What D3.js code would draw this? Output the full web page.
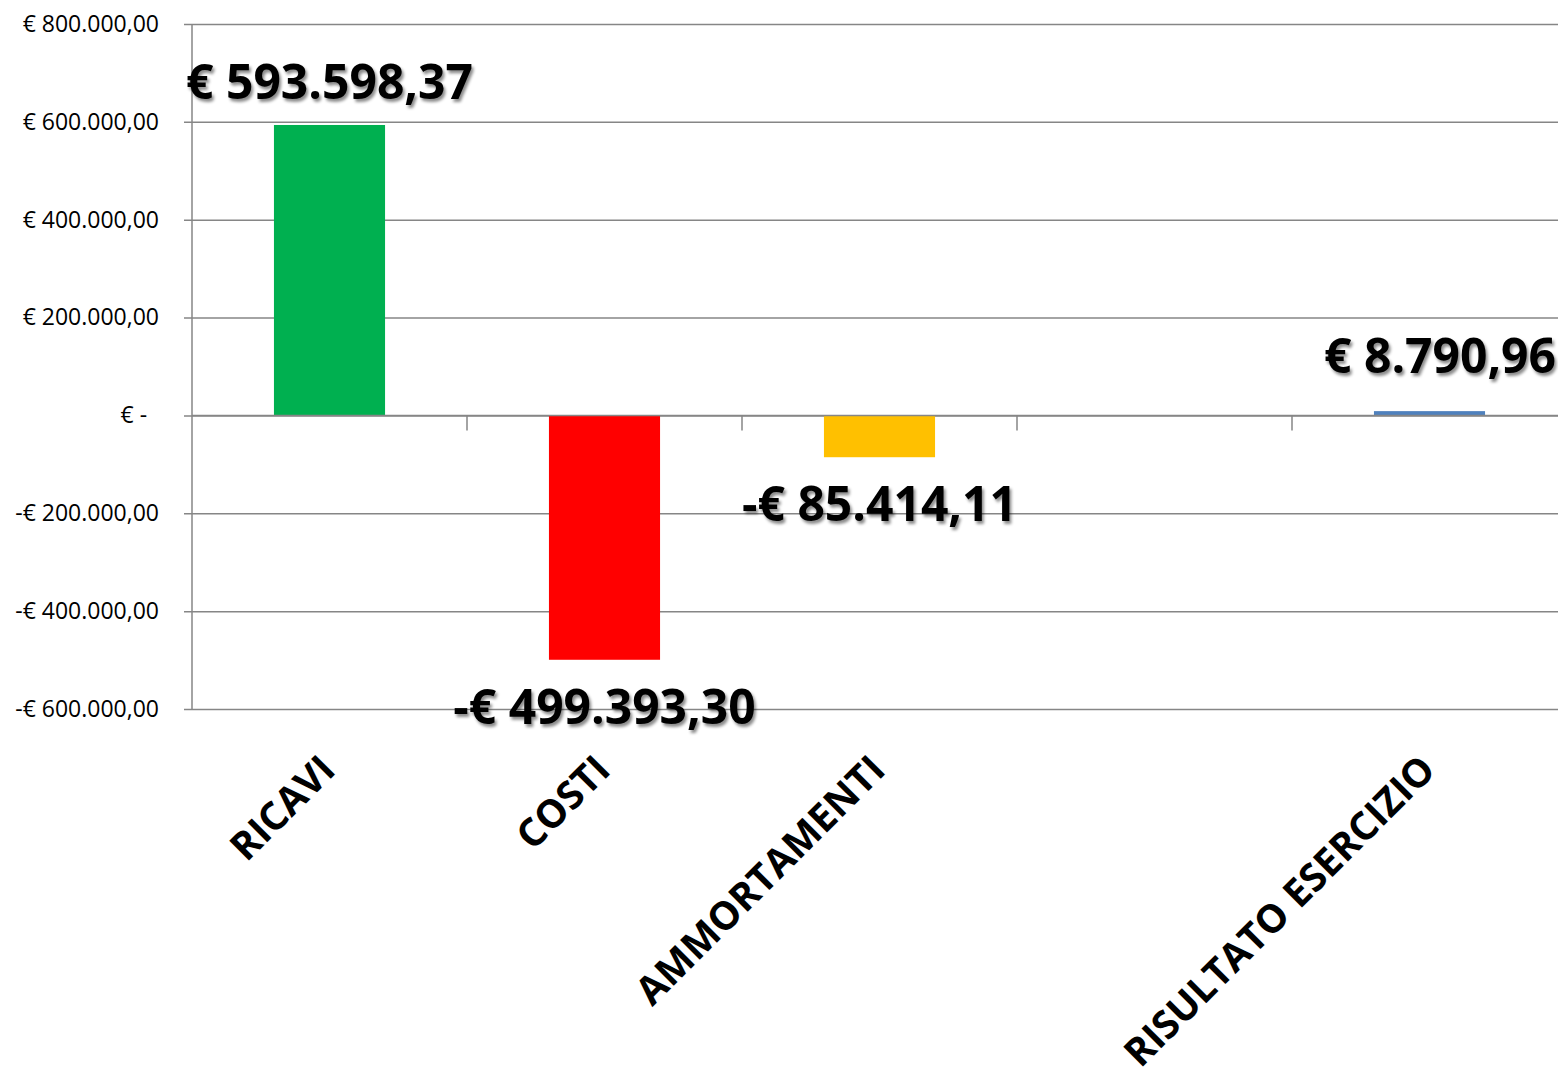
<!DOCTYPE html>
<html>
<head>
<meta charset="utf-8">
<script src="https://cdn.jsdelivr.net/npm/d3@7"></script>
<style>
	body { margin: 0; background: #fff; }
	svg { display: block; }
	text { font-family: 'Open Sans', sans-serif; }
</style>
</head>
<body>
<div id="chart"></div>
<script>
// chart values
var categories = ['RICAVI', 'COSTI', 'AMMORTAMENTI', '', 'RISULTATO ESERCIZIO'];
var values = [593598.37, -499393.30, -85414.11, null, 8790.96];
var bar_colors = ['#00B050', '#FF0000', '#FFC000', '#4F81BD', '#4F81BD'];
var tick_values = [-600000, -400000, -200000, 0, 200000, 400000, 600000, 800000];
var tick_labels = ['-€ 600.000,00', '-€ 400.000,00', '-€ 200.000,00', '€ -  ',
	'€ 200.000,00', '€ 400.000,00', '€ 600.000,00', '€ 800.000,00'];

var width = 1558,
	height = 1068,
	plot_left = 192,
	plot_right = 1567,
	plot_top = 24,
	plot_bottom = 709;

var it = d3.formatLocale({
	decimal: ',',
	thousands: '.',
	grouping: [3],
	currency: ['€ ', ''],
	minus: '-'
});
var money = it.format('$,.2f');

var svg = d3.select('#chart')
	.append('svg')
	.attr('width', width)
	.attr('height', height);

var shadow = svg.append('defs')
	.append('filter')
	.attr('id', 'shadow')
	.attr('x', '-10%').attr('y', '-30%')
	.attr('width', '120%').attr('height', '160%');
shadow.append('feDropShadow')
	.attr('dx', 2).attr('dy', 3)
	.attr('stdDeviation', 1.8)
	.attr('flood-color', '#000')
	.attr('flood-opacity', 0.45);

var x = d3.scaleBand()
	.domain(d3.range(categories.length))
	.range([plot_left, plot_right])
	.paddingInner(0.596)
	.paddingOuter(0.298);

var y = d3.scaleLinear()
	.domain([-600000, 800000])
	.range([plot_bottom, plot_top]);

// horizontal gridlines + y ticks
var y_axis = d3.axisLeft(y)
	.tickValues(tick_values)
	.tickSize(-(width - plot_left))
	.tickPadding(33)
	.tickFormat(function(d, i) { return tick_labels[i]; });

var gy = svg.append('g')
	.attr('transform', 'translate(' + plot_left + ',0)')
	.call(y_axis);
gy.select('.domain').remove();
gy.selectAll('.tick line')
	.attr('x1', -8)
	.attr('stroke', '#868686')
	.attr('stroke-width', 1.5);
gy.selectAll('.tick text')
	.attr('fill', '#000')
	.style('font-size', '23px')
	.style('white-space', 'pre');

// vertical axis line
svg.append('line')
	.attr('x1', plot_left).attr('x2', plot_left)
	.attr('y1', y(800000)).attr('y2', y(-600000))
	.attr('stroke', '#868686')
	.attr('stroke-width', 1.5);

// bars
var bars = values.map(function(v, i) { return {i: i, v: v}; })
	.filter(function(d) { return d.v !== null; });

svg.selectAll('rect.bar')
	.data(bars)
	.enter()
	.append('rect')
	.attr('class', 'bar')
	.attr('x', function(d) { return x(d.i); })
	.attr('y', function(d) { return y(Math.max(d.v, 0)); })
	.attr('width', x.bandwidth())
	.attr('height', function(d) { return Math.abs(y(d.v) - y(0)); })
	.attr('fill', function(d) { return bar_colors[d.i]; });

// category axis on zero line
var zero = y(0);
svg.append('line')
	.attr('x1', plot_left).attr('x2', width)
	.attr('y1', zero).attr('y2', zero)
	.attr('stroke', '#868686')
	.attr('stroke-width', 1.5);

for (var i = 1; i < categories.length; i++) {
	var bx = plot_left + x.step() * i;
	svg.append('line')
		.attr('x1', bx).attr('x2', bx)
		.attr('y1', zero).attr('y2', zero + 15)
		.attr('stroke', '#868686')
		.attr('stroke-width', 1.5);
}

// rotated category labels
categories.forEach(function(c, i) {
	if (c === '') return;
	var cx = x(i) + x.bandwidth() / 2 + 8;
	svg.append('text')
		.attr('transform', 'translate(' + cx + ',772) rotate(-45)')
		.attr('text-anchor', 'end')
		.style('font-size', '39px')
		.style('font-weight', 'bold')
		.attr('fill', '#000')
		.text(c);
});

// data labels
bars.forEach(function(d) {
	var cx = x(d.i) + x.bandwidth() / 2;
	var ly = d.v >= 0 ? y(d.v) - 26 : y(d.v) + 64;
	var label = svg.append('text')
		.attr('x', cx)
		.attr('y', ly)
		.attr('text-anchor', 'middle')
		.attr('filter', 'url(#shadow)')
		.style('font-size', '48px')
		.style('font-weight', 'bold')
		.attr('fill', '#000')
		.text(money(d.v));

	// the last label sits against the right edge, a little higher
	var w = label.node().getComputedTextLength();
	if (cx + w / 2 > width - 40) {
		label.attr('x', width - 2 - w / 2).attr('y', ly - 12);
	}
});
</script>
</body>
</html>
